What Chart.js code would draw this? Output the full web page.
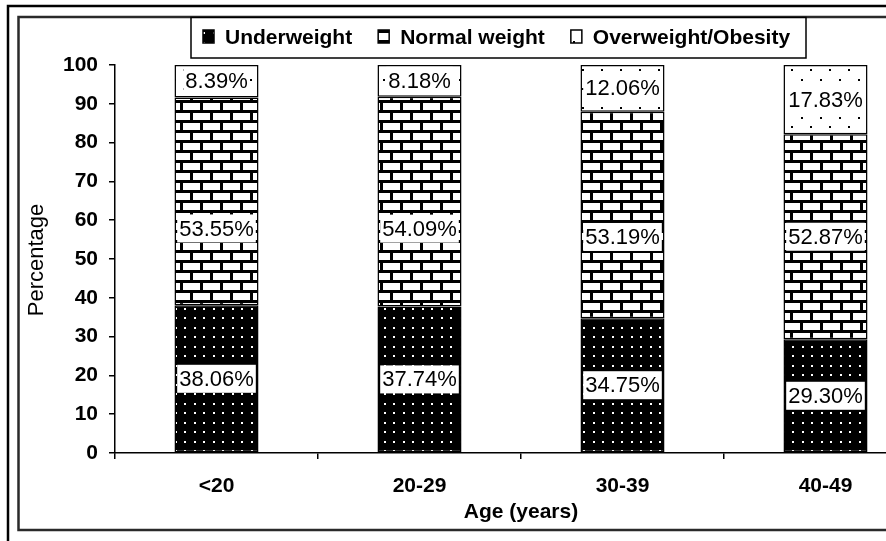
<!DOCTYPE html>
<html>
<head>
<meta charset="utf-8">
<script src="https://cdn.jsdelivr.net/npm/chart.js@4/dist/chart.umd.min.js"></script>
<style>
  html, body { margin: 0; padding: 0; background: #fff; overflow: hidden; }
  #wrap { position: relative; width: 940px; height: 541px; }
</style>
</head>
<body>
<div id="wrap"><canvas id="c" width="940" height="541"></canvas></div>
<script>
// Age groups and the share (%) of each BMI class within them
const categories = ['<20', '20-29', '30-39', '40-49'];
const underweight = [38.06, 37.74, 34.75, 29.30];
const normalWeight = [53.55, 54.09, 53.19, 52.87];
const overweightObesity = [8.39, 8.18, 12.06, 17.83];
const seriesNames = ['Underweight', 'Normal weight', 'Overweight/Obesity'];
const yTickValues = [0, 10, 20, 30, 40, 50, 60, 70, 80, 90, 100];

// Vertical nudges (px) for the value labels, one row per series
const labelShift = [
  [0, 0, 0, 0],
  [27, 27, 22, 0],
  [0, 0, 0, 0]
];

const FONT = "'Liberation Sans', Arial, sans-serif";
const canvas = document.getElementById('c');
const ctx = canvas.getContext('2d');

function makePattern(w, h, paint) {
  const t = document.createElement('canvas');
  t.width = w; t.height = h;
  paint(t.getContext('2d'));
  return ctx.createPattern(t, 'repeat');
}

// black with a grid of small white dots
const dotsOnBlack = makePattern(19, 19, g => {
  g.fillStyle = '#000'; g.fillRect(0, 0, 19, 19);
  g.fillStyle = '#fff';
  [[4, 4], [13, 4], [4, 13], [13, 13]].forEach(([x, y]) => g.fillRect(x, y, 2, 2));
});

// white bricks with black mortar
const bricks = makePattern(20, 20, g => {
  g.fillStyle = '#fff'; g.fillRect(0, 0, 20, 20);
  g.fillStyle = '#000';
  g.fillRect(0, 0, 20, 3);
  g.fillRect(0, 10, 20, 3);
  g.fillRect(0, 0, 3, 10);
  g.fillRect(10, 10, 3, 10);
});

// white with sparse staggered black dots
const sparseDots = makePattern(19, 19, g => {
  g.fillStyle = '#fff'; g.fillRect(0, 0, 19, 19);
  g.fillStyle = '#000';
  g.fillRect(3, 3, 2, 2);
  g.fillRect(12, 12, 2, 2);
});

const seriesData = [underweight, normalWeight, overweightObesity];
const seriesFill = [dotsOnBlack, bricks, sparseDots];

const decor = {
  id: 'decor',
  beforeDraw(chart) {
    const c = chart.ctx;
    c.save();
    c.fillStyle = '#fff';
    c.fillRect(0, 0, chart.width, chart.height);
    // double frame
    c.strokeStyle = '#000';
    c.lineWidth = 2.5;
    c.strokeRect(8, 6, 1200, 1200);
    c.strokeStyle = '#2a2a2a';
    c.lineWidth = 2.5;
    c.strokeRect(18.5, 17, 1200, 513);
    c.restore();
  },
  afterDatasetsDraw(chart) {
    const c = chart.ctx;
    c.save();
    c.font = '22px ' + FONT;
    c.textAlign = 'center';
    c.textBaseline = 'middle';
    chart.data.datasets.forEach((ds, i) => {
      const meta = chart.getDatasetMeta(i);
      meta.data.forEach((el, j) => {
        const p = el.getProps(['x', 'y', 'base'], true);
        const cy = (p.y + p.base) / 2 + labelShift[i][j];
        const txt = ds.data[j].toFixed(2) + '%';
        const w = c.measureText(txt).width;
        c.fillStyle = '#fff';
        c.fillRect(p.x - w / 2 - 2, cy - 14, w + 4, 28);
        c.fillStyle = '#000';
        c.fillText(txt, p.x, cy + 1);
      });
    });
    c.restore();
  },
  afterDraw(chart) {
    const c = chart.ctx;
    c.save();
    // legend
    c.fillStyle = '#fff';
    c.fillRect(191, 17, 615, 41);
    c.strokeStyle = '#000';
    c.lineWidth = 1.5;
    c.strokeRect(191, 17.5, 615, 40.5);
    c.font = 'bold 21px ' + FONT;
    c.textBaseline = 'middle';
    c.textAlign = 'left';
    let x = 203;
    chart.data.datasets.forEach(ds => {
      c.fillStyle = ds.backgroundColor;
      c.fillRect(x, 30, 11, 13);
      c.strokeStyle = '#000';
      c.lineWidth = 1.5;
      c.strokeRect(x, 30, 11, 13);
      c.fillStyle = '#000';
      c.fillText(ds.label, x + 22, 38);
      x += 22 + c.measureText(ds.label).width + 26;
    });
    // axis titles
    c.textAlign = 'center';
    c.font = 'bold 21px ' + FONT;
    c.fillText('Age (years)', 521, 512);
    c.translate(37, 260);
    c.rotate(-Math.PI / 2);
    c.font = '22px ' + FONT;
    c.fillText('Percentage', 0, 0);
    c.restore();
  }
};

new Chart(ctx, {
  type: 'bar',
  data: {
    labels: categories,
    datasets: seriesNames.map((name, i) => ({
      label: name,
      data: seriesData[i],
      backgroundColor: seriesFill[i],
      borderColor: '#000',
      borderWidth: 1.5,
      borderSkipped: false,
      barPercentage: 0.414,
      categoryPercentage: 1
    }))
  },
  options: {
    responsive: false,
    animation: false,
    events: [],
    layout: { padding: { top: 65, right: 13, bottom: 0, left: 0 } },
    plugins: { legend: { display: false }, tooltip: { enabled: false } },
    scales: {
      x: {
        stacked: true,
        offset: true,
        grid: { display: true, offset: true, drawOnChartArea: false, drawTicks: true, tickLength: 6, tickColor: '#000', lineWidth: 1.5 },
        border: { display: true, color: '#000', width: 1.5 },
        ticks: { color: '#000', padding: 15, maxRotation: 0, font: { family: FONT, size: 21, weight: 'bold' } },
        afterFit(s) { s.height = 88; }
      },
      y: {
        stacked: true,
        min: 0,
        max: 100,
        afterBuildTicks(s) { s.ticks = yTickValues.map(v => ({ value: v })); },
        grid: { display: true, drawOnChartArea: false, drawTicks: true, tickLength: 6, tickColor: '#000', lineWidth: 1.5 },
        border: { display: true, color: '#000', width: 1.5 },
        ticks: { color: '#000', padding: 11, font: { family: FONT, size: 21, weight: 'bold' } },
        afterFit(s) { s.width = 115; }
      }
    }
  },
  plugins: [decor]
});
</script>
</body>
</html>
